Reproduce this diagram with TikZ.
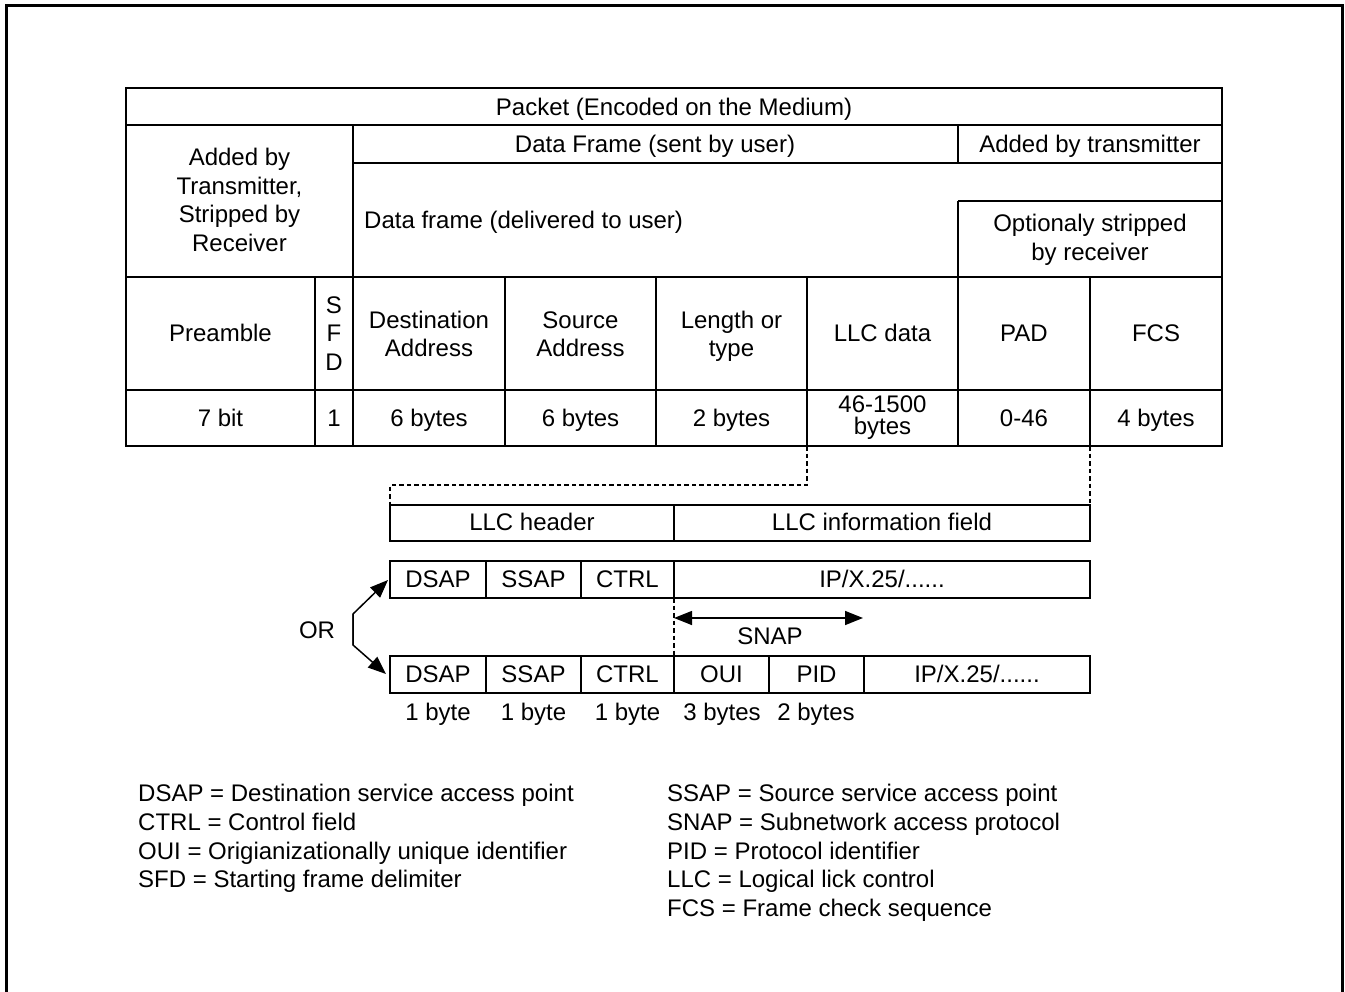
\documentclass[tikz,border=0pt]{standalone}
\usepackage{fontspec}
\setmainfont{Liberation Sans}
\usetikzlibrary{arrows.meta}
\begin{document}
\begin{tikzpicture}[x=1pt,y=-1pt,
  lbl/.style={font=\fontsize{24}{28.5}\selectfont, inner sep=0pt, align=center},
  tight/.style={font=\fontsize{24}{22}\selectfont, inner sep=0pt, align=center},
  t/.style={lbl, anchor=base, yshift=-8.6pt},
  tw/.style={lbl, anchor=base west, yshift=-8.6pt},
  heavy/.style={line width=2.2pt},
  light/.style={line width=1.5pt},
  dashline/.style={line width=1.4pt, dash pattern=on 4.5pt off 3pt},
  tip/.style={-{Triangle[length=18pt,width=14pt]}},
  dtip/.style={{Triangle[length=18pt,width=14pt]}-{Triangle[length=18pt,width=14pt]}}]
\useasboundingbox (0,0) rectangle (1345,992);
% outer frame (open at the bottom)
\draw[line width=3pt] (6,1000) -- (6,6) -- (1342,6) -- (1342,1000);

% ---------- main table ----------
\draw[heavy] (126,88) rectangle (1222,446);
\draw[heavy] (126,125) -- (1222,125);
\draw[heavy] (353,163) -- (1222,163);
\draw[heavy] (958,201) -- (1222,201);
\draw[heavy] (126,277) -- (1222,277);
\draw[heavy] (126,390) -- (1222,390);
\draw[heavy] (353,125) -- (353,277);
\draw[heavy] (958,125) -- (958,163);
\draw[heavy] (958,201) -- (958,277);
\foreach \x in {315,353,505,656,807,958,1090}
  \draw[heavy] (\x,277) -- (\x,446);

\node[t] (packet) at (674,106.5) {Packet (Encoded on the Medium)};
\node[lbl] (added) at (239.5,200) {Added by\\Transmitter,\\Stripped by\\Receiver};
\node[t] (sent) at (655,144) {Data Frame (sent by user)};
\node[t] (addtx) at (1090,144) {Added by transmitter};
\node[tw] (deliv) at (364,220) {Data frame (delivered to user)};
\node[lbl] (optstrip) at (1090,240) {Optionaly stripped\\by receiver};

\node[t] (preamble) at (220.5,333) {Preamble};
\node[lbl] (sfd) at (334,333.5) {S\\F\\D};
\node[lbl] (dest) at (429,334) {Destination\\Address};
\node[lbl] (src) at (580.5,334) {Source\\Address};
\node[lbl] (len) at (731.5,336.5) {Length or\\type};
\node[t] (llcd) at (882.5,333) {LLC data};
\node[t] (pad) at (1024,333) {PAD};
\node[t] (fcs) at (1156,333) {FCS};

\node[t] (s1) at (220.5,418) {7 bit};
\node[t] (s2) at (334,418) {1};
\node[t] (s3) at (429,418) {6 bytes};
\node[t] (s4) at (580.5,418) {6 bytes};
\node[t] (s5) at (731.5,418) {2 bytes};
\node[tight] (s6) at (882.5,418) {46-1500\\bytes};
\node[t] (s7) at (1024,418) {0-46};
\node[t] (s8) at (1156,418) {4 bytes};

% named corner coordinates for the dashed connectors
\coordinate (llcbot) at (807,446);
\coordinate (fcsbot) at (1090,446);
\coordinate (llcL) at (390,505);
\coordinate (llcR) at (1090,505);

% ---------- LLC boxes ----------
\draw[light] (390,505) rectangle (1090,541);
\draw[light] (674,505) -- (674,541);
\node[t] (hdr) at (532,522) {LLC header};
\node[t] (info) at (882,522) {LLC information field};

\draw[light] (390,561) rectangle (1090,598);
\foreach \x in {486,581,674} \draw[light] (\x,561) -- (\x,598);
\node[t] (a1) at (438,579) {DSAP};
\node[t] (a2) at (533.5,579) {SSAP};
\node[t] (a3) at (627.5,579) {CTRL};
\node[t] (a4) at (882,579) {IP/X.25/......};

\draw[light] (390,656) rectangle (1090,693);
\foreach \x in {486,581,674,769,864} \draw[light] (\x,656) -- (\x,693);
\node[t] (b1) at (438,674) {DSAP};
\node[t] (b2) at (533.5,674) {SSAP};
\node[t] (b3) at (627.5,674) {CTRL};
\node[t] (b4) at (721.5,674) {OUI};
\node[t] (b5) at (816.5,674) {PID};
\node[t] (b6) at (977,674) {IP/X.25/......};

\node[t] (c1) at (438,712) {1 byte};
\node[t] (c2) at (533.5,712) {1 byte};
\node[t] (c3) at (627.5,712) {1 byte};
\node[t] (c4) at (722,712) {3 bytes};
\node[t] (c5) at (816,712) {2 bytes};

% dashed connectors
\draw[dashline] (llcbot) -- (807,485) -- (390,485) -- (llcL);
\draw[dashline] (fcsbot) -- (llcR);
\coordinate (snapTop) at (674,598);
\coordinate (snapBot) at (674,656);
\draw[dashline] (snapTop) -- (snapBot);

% SNAP arrow
\coordinate (snapL) at (674,618);
\coordinate (snapR) at (863,618);
\draw[light, dtip] (snapL) -- (snapR);
\node[t] (snap) at (770,636) {SNAP};

% OR arrows
\node[t] (or) at (317,630) {OR};
\coordinate (orTop) at (388,580);
\coordinate (orBot) at (386,674);
\draw[light, tip] (353,645) -- (353,614) -- (orTop);
\draw[light, tip] (353,614) -- (353,645) -- (orBot);

% ---------- legend ----------
\node[tw] (l1) at (138,793) {DSAP = Destination service access point};
\node[tw] (l2) at (138,822) {CTRL = Control field};
\node[tw] (l3) at (138,851) {OUI = Origianizationally unique identifier};
\node[tw] (l4) at (138,879) {SFD = Starting frame delimiter};
\node[tw] (r1) at (667,793) {SSAP = Source service access point};
\node[tw] (r2) at (667,822) {SNAP = Subnetwork access protocol};
\node[tw] (r3) at (667,851) {PID = Protocol identifier};
\node[tw] (r4) at (667,879) {LLC = Logical lick control};
\node[tw] (r5) at (667,908) {FCS = Frame check sequence};
\end{tikzpicture}
\end{document}
